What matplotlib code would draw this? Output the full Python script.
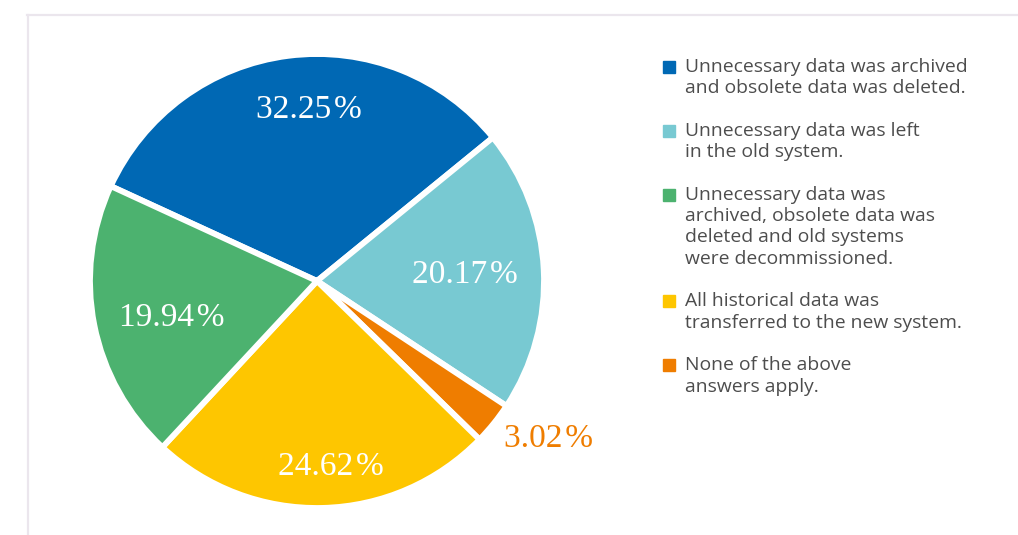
import matplotlib
matplotlib.use("Agg")
import matplotlib.pyplot as plt
from matplotlib.patches import Rectangle
from matplotlib.lines import Line2D

# Survey answers and their shares (percent)
categories = [
    "Unnecessary data was archived\nand obsolete data was deleted.",
    "Unnecessary data was left\nin the old system.",
    "None of the above\nanswers apply.",
    "All historical data was\ntransferred to the new system.",
    "Unnecessary data was\narchived, obsolete data was\ndeleted and old systems\nwere decommissioned.",
]
shares = [32.25, 20.17, 3.02, 24.62, 19.94]
colors = ["#0068b4", "#78c9d2", "#ef7d00", "#fec600", "#4cb26f"]

# Legend order as listed beside the pie
legend_order = [0, 1, 4, 3, 2]

W, H = 1018, 535
fig = plt.figure(figsize=(W / 100, H / 100), dpi=100)
fig.patch.set_facecolor("white")

# Light frame along the top and left edges
frame_col = "#ebe6ed"
fig.add_artist(Line2D([27 / W, 1.0], [1 - 15 / H, 1 - 15 / H], color=frame_col, lw=1.6,
                      transform=fig.transFigure))
fig.add_artist(Line2D([28 / W, 28 / W], [0, 1 - 15 / H], color=frame_col, lw=1.6,
                      transform=fig.transFigure))

# Pie axes: centre at (317, 281) px, radius 227 px
cx, cy, R = 317, 281, 227
ax = fig.add_axes([(cx - R) / W, (H - cy - R) / H, 2 * R / W, 2 * R / H])
wedges, _ = ax.pie(shares, colors=colors, startangle=155.3, counterclock=False,
                   radius=1.0, wedgeprops=dict(edgecolor="white", linewidth=4.2))
ax.set_xlim(-1, 1)
ax.set_ylim(-1, 1)
ax.set_axis_off()

# Value labels (pixel anchor positions)
label_px = [(309, 110), (465, 275), (549, 439), (331, 467), (172, 318)]
label_colors = ["white", "white", "#ef7d00", "white", "white"]
for val, (px, py), lc in zip(shares, label_px, label_colors):
    ax.text((px - cx) / R, (cy - py) / R, f"{val:.2f}\u200a%",
            ha="center", va="center", color=lc, fontsize=24,
            family="Liberation Serif")

# Legend drawn beside the pie
text_col = "#4d4d4d"
y = 67
step = 21.3
for i in legend_order:
    fig.add_artist(Rectangle(((663) / W, 1 - (y + 6) / H), 12 / W, 12 / H,
                             color=colors[i], transform=fig.transFigure))
    for line in categories[i].split("\n"):
        fig.text(685 / W, 1 - y / H, line, ha="left", va="center", color=text_col,
                 fontsize=13.9, family="Open Sans")
        y += step
    y += step

fig.savefig("out.png", dpi=100)
